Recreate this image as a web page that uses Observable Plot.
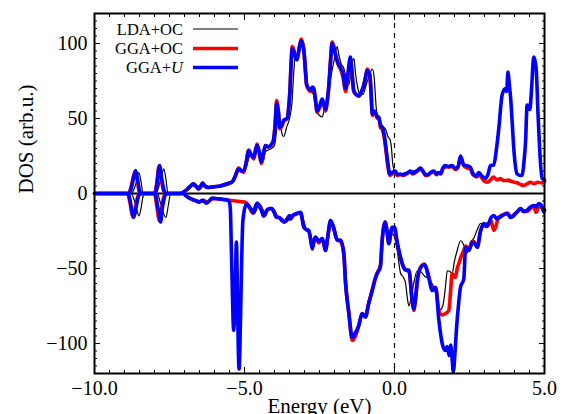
<!DOCTYPE html>
<html><head><meta charset="utf-8">
<script src="https://cdn.jsdelivr.net/npm/d3@7"></script>
<script src="https://cdn.jsdelivr.net/npm/@observablehq/plot@0.6"></script>
<style>body{margin:0;background:#fff}#chart{width:567px;height:414px}#chart svg, #chart svg text{font-family:"Liberation Serif", "Times New Roman", serif !important}</style>
</head><body><div id="chart"></div>
<script>
// ---- data: [energy (eV), DOS] pairs ----
const ldaOcUp = [[-10,0],[-8.78,0],[-8.7,2],[-8.6,8],[-8.52,14],[-8.45,8],[-8.38,0],[-7.95,0],[-7.85,5],[-7.75,13],[-7.69,16.5],[-7.62,10],[-7.55,0],[-7.05,0],[-6.9,2],[-6.7,5],[-6.6,4],[-6.45,6],[-6.3,4],[-6.1,4],[-5.9,5],[-5.7,5],[-5.5,6],[-5.35,8],[-5.25,13],[-5.15,16],[-5.05,14],[-4.95,17],[-4.85,24],[-4.78,27],[-4.7,23],[-4.6,28],[-4.52,30],[-4.45,24],[-4.38,21],[-4.3,28],[-4.2,29],[-4.1,30],[-4.0,32],[-3.93,42],[-3.86,53],[-3.8,47],[-3.74,39],[-3.69,38],[-3.6,44],[-3.5,50],[-3.42,60],[-3.36,80],[-3.3,93],[-3.25,90],[-3.18,95],[-3.08,102],[-3.0,97],[-2.95,85],[-2.88,70],[-2.8,68],[-2.7,66],[-2.6,55],[-2.5,52],[-2.41,51],[-2.35,55],[-2.28,60],[-2.2,68],[-2.1,80],[-2.0,90],[-1.91,98],[-1.85,92],[-1.77,86],[-1.7,84],[-1.6,76],[-1.55,72],[-1.5,74],[-1.42,86],[-1.35,90],[-1.3,80],[-1.22,70],[-1.15,66],[-1.05,66],[-0.95,72],[-0.85,78],[-0.74,83],[-0.68,78],[-0.62,60],[-0.57,50],[-0.5,50],[-0.45,46],[-0.4,45],[-0.35,44],[-0.28,42],[-0.22,38],[-0.15,36],[-0.1,30],[-0.06,20],[-0.02,16],[0.05,14],[0.2,13],[0.4,14],[0.6,15],[0.87,16],[1.1,13],[1.3,14],[1.5,14],[1.7,17],[1.92,18],[2.05,16],[2.2,23],[2.35,18],[2.5,16],[2.64,12],[2.8,13],[2.95,10],[3.1,8],[3.3,10],[3.5,9],[3.7,8],[3.9,7.5],[4.1,7],[4.3,6],[4.5,7],[4.7,7],[5,7]];
const ldaOcDown = [[-10,0],[-8.78,0],[-8.7,-3],[-8.6,-10],[-8.52,-15],[-8.45,-10],[-8.38,-2],[-8.3,0],[-7.9,0],[-7.82,-5],[-7.72,-12],[-7.62,-16],[-7.54,-8],[-7.46,0],[-7.0,0],[-6.9,-1.5],[-6.75,-3],[-6.6,-5],[-6.45,-5.5],[-6.3,-6],[-6.15,-4],[-6.0,-4],[-5.8,-4],[-5.6,-4.5],[-5.4,-5],[-5.2,-5],[-5.0,-6],[-4.88,-8],[-4.75,-10],[-4.62,-12],[-4.55,-7],[-4.45,-8],[-4.38,-11],[-4.3,-15],[-4.2,-11],[-4.05,-10],[-3.95,-13],[-3.88,-16],[-3.78,-16],[-3.68,-18],[-3.6,-19],[-3.5,-17],[-3.42,-15],[-3.3,-14],[-3.15,-13],[-3.05,-17],[-2.95,-23],[-2.85,-26],[-2.78,-30],[-2.7,-35],[-2.62,-30],[-2.55,-31],[-2.45,-30],[-2.35,-32],[-2.28,-38],[-2.2,-30],[-2.1,-19],[-2.0,-22],[-1.9,-30],[-1.8,-33],[-1.7,-38],[-1.62,-55],[-1.52,-78],[-1.42,-94],[-1.32,-92],[-1.2,-87],[-1.1,-80],[-0.98,-80],[-0.88,-72],[-0.76,-64],[-0.6,-53],[-0.5,-48],[-0.42,-33],[-0.32,-20],[-0.22,-30],[-0.12,-26],[-0.02,-28],[0.09,-38],[0.2,-53],[0.3,-56],[0.37,-60],[0.43,-70],[0.48,-75],[0.55,-70],[0.64,-60],[0.76,-51.5],[0.87,-52],[1.0,-55],[1.14,-57],[1.3,-62],[1.42,-70],[1.53,-77.5],[1.62,-74],[1.7,-62],[1.76,-51.5],[1.85,-52],[1.92,-53.5],[2.0,-45],[2.09,-38],[2.2,-31.5],[2.3,-34],[2.4,-40],[2.53,-32.5],[2.64,-30],[2.76,-24],[2.87,-20],[3.0,-20],[3.14,-19],[3.3,-15],[3.45,-16],[3.6,-15],[3.76,-13],[3.9,-15],[4.05,-13],[4.2,-10],[4.35,-11],[4.5,-9],[4.65,-8],[4.8,-7],[4.95,-10],[5,-10]];
const ggaOcUp = [[-10,0],[-8.87,0],[-8.8,3],[-8.72,10],[-8.65,14.5],[-8.58,10],[-8.52,2],[-8.47,0],[-8.0,0],[-7.93,6],[-7.85,18],[-7.78,10],[-7.7,2],[-7.64,0],[-7.12,0],[-7.0,1.5],[-6.9,3],[-6.8,5],[-6.7,6.5],[-6.6,4.5],[-6.53,3],[-6.45,5],[-6.4,7],[-6.32,5],[-6.2,4],[-6.0,4.5],[-5.8,5],[-5.65,6],[-5.5,7],[-5.4,8],[-5.3,12],[-5.2,17],[-5.1,15],[-5.03,14],[-4.95,20],[-4.86,29],[-4.78,26],[-4.69,23],[-4.62,30],[-4.58,33],[-4.5,26],[-4.44,20],[-4.36,27],[-4.3,32],[-4.2,31],[-4.1,32],[-4.04,35],[-3.98,46],[-3.93,62],[-3.87,55],[-3.82,43],[-3.75,45],[-3.69,48],[-3.58,50],[-3.53,57],[-3.49,68],[-3.44,90],[-3.41,98],[-3.36,96],[-3.3,91],[-3.25,90],[-3.18,97],[-3.11,103],[-3.02,95],[-2.97,82],[-2.93,72],[-2.8,68],[-2.74,70],[-2.69,69],[-2.63,61],[-2.58,54],[-2.5,57],[-2.41,62],[-2.36,59],[-2.3,55],[-2.24,62],[-2.19,72],[-2.13,90],[-2.08,101],[-2.02,98],[-1.97,93],[-1.88,86],[-1.8,83],[-1.72,78],[-1.63,68],[-1.55,79],[-1.47,90],[-1.42,81],[-1.36,68],[-1.28,66],[-1.19,65],[-1.1,68],[-1.04,71],[-0.97,77],[-0.91,83],[-0.86,81],[-0.82,78],[-0.78,66],[-0.74,52],[-0.68,54],[-0.63,53],[-0.57,50],[-0.52,50],[-0.47,44],[-0.41,43],[-0.35,38],[-0.3,31],[-0.22,18],[-0.16,12],[-0.08,13],[0.03,14],[0.1,12],[0.2,12.5],[0.3,12],[0.4,13],[0.53,14.5],[0.6,13],[0.7,14],[0.8,15.5],[0.87,16.5],[0.95,14.5],[1.04,12],[1.1,12],[1.2,13.5],[1.31,14.5],[1.4,12.5],[1.47,13.5],[1.55,13],[1.6,16],[1.7,18],[1.8,17.5],[1.92,18],[2.03,16],[2.12,17.5],[2.2,24],[2.31,18.5],[2.42,17],[2.53,16.5],[2.6,13],[2.66,12],[2.74,11],[2.83,12.5],[2.92,10],[3.0,8],[3.1,7.5],[3.2,9],[3.3,11],[3.42,9],[3.53,10],[3.65,8.5],[3.8,9],[3.9,8],[4.0,7.5],[4.1,7],[4.2,6],[4.31,5.3],[4.42,6.5],[4.53,7.5],[4.65,6.5],[4.77,7.5],[4.9,7],[5,8]];
const ggaOcDown = [[-10,0],[-8.9,0],[-8.82,-6],[-8.75,-14],[-8.7,-16],[-8.63,-9],[-8.56,-2],[-8.5,0],[-8.0,0],[-7.92,-9],[-7.84,-18],[-7.78,-12],[-7.7,-3],[-7.63,0],[-7.05,0],[-6.95,-1.5],[-6.8,-3.5],[-6.6,-5],[-6.5,-5.5],[-6.35,-4.5],[-6.25,-6],[-6.1,-3.5],[-5.9,-3.5],[-5.7,-4],[-5.5,-4.5],[-5.3,-5],[-5.1,-5.5],[-4.95,-6],[-4.85,-9],[-4.72,-13],[-4.62,-8],[-4.55,-7],[-4.45,-10],[-4.36,-15],[-4.25,-11],[-4.1,-10],[-4.0,-13],[-3.94,-16],[-3.85,-16],[-3.75,-18],[-3.67,-19],[-3.58,-17],[-3.5,-15],[-3.47,-17],[-3.38,-14.5],[-3.3,-14],[-3.13,-13],[-3.02,-22.5],[-2.94,-24],[-2.86,-25],[-2.8,-30],[-2.74,-36],[-2.68,-31],[-2.63,-30],[-2.52,-33],[-2.41,-30],[-2.35,-34],[-2.3,-38],[-2.22,-28],[-2.13,-18],[-2.02,-24],[-1.91,-31],[-1.8,-32],[-1.69,-40],[-1.63,-60],[-1.52,-80],[-1.41,-98],[-1.3,-95],[-1.19,-88],[-1.08,-80],[-0.97,-82],[-0.86,-73],[-0.74,-64],[-0.66,-58],[-0.58,-53],[-0.47,-48],[-0.41,-31],[-0.32,-19],[-0.25,-25],[-0.19,-33],[-0.08,-23],[0,-24],[0.09,-33],[0.2,-43],[0.28,-48],[0.37,-51],[0.48,-52],[0.59,-72],[0.64,-78],[0.7,-71],[0.76,-59],[0.87,-49],[1.0,-47],[1.14,-55],[1.26,-64],[1.37,-63],[1.48,-78],[1.59,-81],[1.7,-80],[1.81,-78],[1.87,-65],[1.92,-53.5],[1.98,-55],[2.03,-56],[2.09,-50],[2.14,-47],[2.22,-42],[2.31,-38],[2.37,-35],[2.48,-37],[2.56,-34],[2.64,-32],[2.76,-35],[2.87,-25],[2.98,-21],[3.06,-22],[3.14,-21],[3.22,-18],[3.31,-24.6],[3.38,-22],[3.46,-16],[3.53,-15],[3.65,-14],[3.76,-13],[3.87,-16],[3.98,-14],[4.1,-12],[4.2,-10],[4.3,-12],[4.42,-12],[4.53,-10],[4.64,-9],[4.72,-12.5],[4.81,-9],[4.9,-9],[5,-11]];
const ggaUUp = [[-10,0],[-8.85,0],[-8.78,3],[-8.7,10],[-8.63,15.3],[-8.57,10],[-8.5,2],[-8.45,0],[-7.98,0],[-7.92,6],[-7.83,18.7],[-7.76,10],[-7.68,2],[-7.62,0],[-7.12,0],[-7.0,1.5],[-6.9,3],[-6.8,5],[-6.7,6.5],[-6.6,4.5],[-6.53,3],[-6.45,5],[-6.4,7],[-6.32,5],[-6.2,4],[-6.0,4.5],[-5.8,5],[-5.65,6],[-5.5,7],[-5.4,8],[-5.3,12],[-5.2,16.5],[-5.1,15],[-5.03,15],[-4.95,20],[-4.86,28.7],[-4.78,26],[-4.69,24],[-4.62,30],[-4.58,32],[-4.5,27],[-4.44,21],[-4.36,28],[-4.3,32],[-4.2,31],[-4.1,33],[-4.04,35],[-3.98,45],[-3.93,60],[-3.87,54],[-3.82,44],[-3.75,46],[-3.69,49],[-3.58,50],[-3.53,56],[-3.49,66],[-3.44,88],[-3.41,96.5],[-3.36,95],[-3.3,91],[-3.25,89],[-3.18,96],[-3.11,102],[-3.02,95],[-2.97,82],[-2.93,73],[-2.8,69],[-2.74,71],[-2.69,70],[-2.63,62],[-2.58,55],[-2.5,58],[-2.41,63],[-2.36,60],[-2.3,56],[-2.24,62],[-2.19,71],[-2.13,88],[-2.08,100],[-2.02,97],[-1.97,93],[-1.88,87],[-1.8,84],[-1.72,80],[-1.63,70],[-1.55,80],[-1.47,91],[-1.42,82],[-1.36,69],[-1.28,66],[-1.19,65],[-1.1,68],[-1.04,71],[-0.97,77],[-0.91,82],[-0.86,81],[-0.82,79],[-0.78,68],[-0.74,53],[-0.68,55],[-0.63,54],[-0.57,51],[-0.52,51],[-0.47,46],[-0.41,44],[-0.35,40],[-0.3,33],[-0.22,20],[-0.16,13],[-0.08,14],[0.03,15],[0.1,12.5],[0.2,13],[0.25,12.5],[0.35,13],[0.45,14],[0.53,15],[0.6,13.5],[0.7,14.5],[0.8,16],[0.87,17],[0.95,15],[1.04,12.5],[1.1,12.5],[1.2,14],[1.31,15],[1.4,13],[1.47,14],[1.55,13.5],[1.6,16.5],[1.7,18.7],[1.8,18],[1.92,18.7],[2.03,16.5],[2.12,18],[2.2,25],[2.31,19],[2.42,18.5],[2.53,17.5],[2.6,14],[2.64,12.5],[2.72,11.5],[2.81,14],[2.9,12],[3.03,10],[3.12,13],[3.2,18.7],[3.31,19],[3.4,30],[3.48,44],[3.59,66],[3.7,70],[3.74,68],[3.78,81],[3.83,72],[3.87,64],[3.93,45],[3.98,29],[4.09,13],[4.2,12],[4.26,12.5],[4.32,22],[4.37,35],[4.42,59],[4.47,58],[4.51,56],[4.57,70],[4.64,91],[4.69,88],[4.73,81],[4.78,55],[4.84,29],[4.92,10],[5,9]];
const ggaUDown = [[-10,0],[-8.88,0],[-8.8,-6],[-8.74,-13],[-8.69,-15.8],[-8.62,-10],[-8.55,-3],[-8.48,0],[-7.98,0],[-7.9,-8],[-7.83,-16],[-7.8,-19],[-7.74,-10],[-7.66,-2],[-7.6,0],[-7.05,0],[-6.95,-1.5],[-6.85,-3],[-6.73,-4],[-6.6,-5],[-6.52,-5.8],[-6.4,-4.5],[-6.27,-6.4],[-6.15,-4.5],[-6.08,-3.1],[-5.9,-3.5],[-5.7,-4],[-5.55,-4.5],[-5.5,-6],[-5.47,-11.3],[-5.44,-35],[-5.41,-60],[-5.38,-85],[-5.36,-91.3],[-5.33,-80],[-5.31,-67],[-5.27,-32.4],[-5.24,-60],[-5.21,-100],[-5.18,-117],[-5.15,-100],[-5.1,-50],[-5.06,-20],[-5.04,-15.8],[-4.98,-9],[-4.91,-7],[-4.8,-10],[-4.69,-13],[-4.62,-8],[-4.58,-6.4],[-4.5,-9],[-4.44,-11],[-4.36,-15],[-4.25,-11],[-4.15,-10],[-4.09,-10],[-4.0,-13],[-3.94,-15.6],[-3.85,-16],[-3.75,-18],[-3.67,-19],[-3.58,-17],[-3.5,-14.7],[-3.47,-17],[-3.38,-14.5],[-3.3,-13.6],[-3.13,-12.5],[-3.02,-22.5],[-2.94,-24],[-2.86,-24.6],[-2.8,-30],[-2.74,-37],[-2.68,-31],[-2.63,-29],[-2.52,-32],[-2.41,-30],[-2.35,-34],[-2.3,-38],[-2.22,-28],[-2.13,-18],[-2.02,-23.6],[-1.91,-31],[-1.8,-31],[-1.69,-40],[-1.63,-60],[-1.52,-80],[-1.41,-96],[-1.3,-93],[-1.19,-88],[-1.08,-80],[-0.97,-82.5],[-0.86,-73.5],[-0.74,-64.7],[-0.66,-58],[-0.58,-53.5],[-0.47,-49],[-0.41,-31],[-0.3,-19],[-0.25,-25],[-0.19,-33.5],[-0.08,-22.5],[0,-22.5],[0.09,-32.5],[0.2,-42.5],[0.28,-48],[0.37,-51],[0.48,-51],[0.59,-71],[0.64,-77],[0.7,-70],[0.76,-58],[0.87,-49.6],[1.0,-47.5],[1.14,-56],[1.26,-64.7],[1.37,-62.5],[1.48,-84.7],[1.59,-100],[1.7,-104.7],[1.76,-102],[1.82,-108],[1.87,-101],[1.92,-110],[1.96,-119],[2.02,-105],[2.07,-89],[2.13,-75],[2.2,-62.5],[2.31,-57],[2.37,-36],[2.48,-38],[2.56,-34],[2.64,-32.5],[2.76,-36],[2.87,-24.7],[2.98,-20],[3.06,-22],[3.14,-20],[3.22,-16],[3.31,-14.7],[3.42,-17],[3.53,-15.6],[3.65,-14],[3.76,-13.3],[3.87,-16],[3.98,-14.7],[4.1,-12],[4.2,-10],[4.3,-12],[4.42,-11.3],[4.53,-9],[4.64,-8],[4.72,-9],[4.81,-6.7],[4.9,-8],[4.98,-12.5],[5,-11]];

const seriesNames = ["LDA+OC", "GGA+OC", "GGA+U"];
const seriesColors = ["#000000", "#ff0000", "#0000ff"];
const seriesWidths = [1.2, 3.6, 3.6];
const seriesData = [[ldaOcUp, ldaOcDown], [ggaOcUp, ggaOcDown], [ggaUUp, ggaUDown]];

const xMajorTicks = [-10, -5, 0, 5];
const xMinorTicks = d3.range(-10, 5.001, 0.5);
const yMajorTicks = [-100, -50, 0, 50, 100];
const yMinorTicks = d3.range(-120, 120.001, 5);
const xTitle = "Energy (eV)";
const yTitle = "DOS (arb.u.)";

// ---- build tables ----
const tables = seriesNames.map((name, i) => {
  const rows = [];
  seriesData[i].forEach((arr, k) => arr.forEach(([e, d]) => rows.push({series: name, spin: k === 0 ? "up" : "down", energy: e, dos: d})));
  return rows;
});

const font = "Liberation Serif, Times New Roman, serif";
const blank = () => "";

const plot = Plot.plot({
  width: 567, height: 414,
  marginLeft: 94, marginRight: 23, marginTop: 13, marginBottom: 41,
  style: {fontFamily: font, fontSize: "20px", background: "#fff", color: "#000", overflow: "visible"},
  x: {domain: [-10, 5], label: null},
  y: {domain: [-120, 120], label: null},
  marks: [
    Plot.ruleY([0], {stroke: "#000", strokeWidth: 2}),
    Plot.ruleX([0], {stroke: "#000", strokeWidth: 1.2, strokeDasharray: "5,5"}),
    ...tables.map((rows, i) => Plot.line(rows, {x: "energy", y: "dos", z: "spin", stroke: seriesColors[i], strokeWidth: seriesWidths[i], curve: "monotone-x"})),
    // inward ticks on all sides
    Plot.axisX(xMinorTicks, {anchor: "bottom", tickSize: 3, dy: -3, tickFormat: blank, label: null}),
    Plot.axisX(xMajorTicks, {anchor: "bottom", tickSize: 6, dy: -6, tickFormat: blank, label: null}),
    Plot.axisX(xMinorTicks, {anchor: "top", tickSize: 3, dy: 3, tickFormat: blank, label: null}),
    Plot.axisX(xMajorTicks, {anchor: "top", tickSize: 6, dy: 6, tickFormat: blank, label: null}),
    Plot.axisY(yMinorTicks, {anchor: "left", tickSize: 3, dx: 3, tickFormat: blank, label: null}),
    Plot.axisY(yMajorTicks, {anchor: "left", tickSize: 6, dx: 6, tickFormat: blank, label: null}),
    Plot.axisY(yMinorTicks, {anchor: "right", tickSize: 3, dx: -3, tickFormat: blank, label: null}),
    Plot.axisY(yMajorTicks, {anchor: "right", tickSize: 6, dx: -6, tickFormat: blank, label: null}),
    // tick labels
    Plot.axisX(xMajorTicks, {anchor: "bottom", tickSize: 0, tickPadding: 7, tickFormat: d3.format(".1f"), label: null, fontSize: 20, fontFamily: font}),
    Plot.axisY(yMajorTicks, {anchor: "left", tickSize: 0, tickPadding: 7, tickFormat: d3.format("d"), label: null, fontSize: 20, fontFamily: font}),
    // axis titles
    Plot.text([xTitle], {frameAnchor: "bottom", text: d => d, dy: 39, lineAnchor: "bottom", fontSize: 21, fontFamily: font}),
    Plot.text([yTitle], {frameAnchor: "left", text: d => d, dx: -76, rotate: -90, lineAnchor: "top", fontSize: 21, fontFamily: font}),
    Plot.frame({stroke: "#000", strokeWidth: 2})
  ]
});

const svg = d3.select(plot).attr("font-family", font).style("font-family", font);

// legend (inside the plot area, upper left)
const legendRowY = [29, 48.5, 67.5];
const leg = svg.append("g").attr("font-family", font).attr("font-size", 16.5).attr("fill", "#000");
seriesNames.forEach((name, i) => {
  const t = leg.append("text").attr("x", 183).attr("y", legendRowY[i]).attr("dy", "0.35em").attr("text-anchor", "end");
  if (name === "GGA+U") {
    t.append("tspan").text("GGA+");
    t.append("tspan").attr("font-style", "italic").text("U");
  } else t.text(name);
  leg.append("line").attr("x1", 193).attr("x2", 238).attr("y1", legendRowY[i]).attr("y2", legendRowY[i])
    .attr("stroke", seriesColors[i]).attr("stroke-width", seriesWidths[i]);
});

document.getElementById("chart").appendChild(plot);
</script>
</body></html>
